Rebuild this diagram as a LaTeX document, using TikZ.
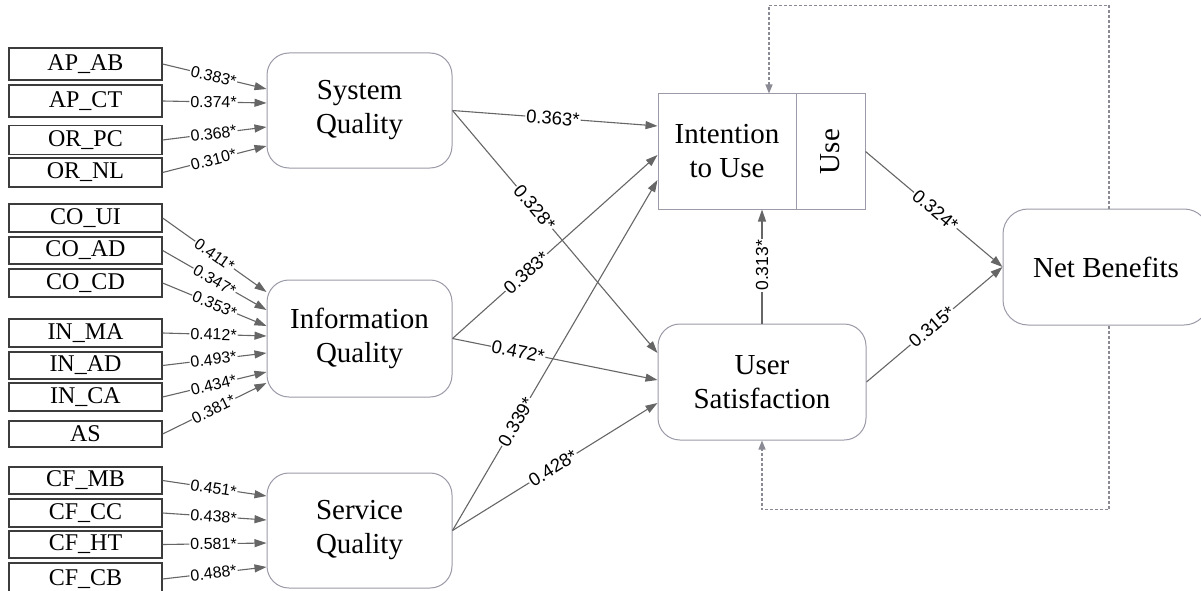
\documentclass[tikz,border=0pt]{standalone}
\usepackage{fontspec}
\setmainfont{Liberation Serif}
\newfontfamily\lblfont{Liberation Sans}
\usetikzlibrary{arrows.meta,calc}
\definecolor{indborder}{HTML}{3C3C3C}
\definecolor{latborder}{HTML}{9A9AA8}
\definecolor{arrcol}{HTML}{666666}
\definecolor{dashcol}{HTML}{8A8A95}
\begin{document}
\begin{tikzpicture}[x=1pt,y=-1pt,
 ind/.style={draw=indborder, line width=1.3pt, minimum width=153pt, inner sep=0pt, font=\fontsize{24}{26}\selectfont},
 lat/.style={draw=latborder, line width=1pt, rounded corners=22pt, minimum width=185pt, minimum height=115pt, align=center, inner sep=0pt, font=\fontsize{29}{34}\selectfont},
 arr/.style={draw=arrcol, line width=1.1pt, -{Triangle[length=12pt,width=8pt]}},
 lab/.style={sloped, fill=white, inner sep=1pt, text=black, font=\lblfont\fontsize{16}{16}\selectfont},
 labm/.style={lab, font=\lblfont\fontsize{18.5}{18.5}\selectfont},
 dsh/.style={draw=dashcol, line width=1.3pt, dash pattern=on 3pt off 2pt, -{Triangle[length=9pt,width=7pt]}}
]
\useasboundingbox (0,0) rectangle (1201,591);
\clip (0,0) rectangle (1201,591);
% indicator boxes
\node[ind, minimum height=32pt] (apab) at (85.5,64) {AP\_AB};
\node[ind, minimum height=32pt] (apct) at (85.5,101) {AP\_CT};
\node[ind, minimum height=29pt] (orpc) at (85.5,140) {OR\_PC};
\node[ind, minimum height=29pt] (ornl) at (85.5,172.5) {OR\_NL};
\node[ind, minimum height=28pt] (coui) at (85.5,218) {CO\_UI};
\node[ind, minimum height=27pt] (coad) at (85.5,250.5) {CO\_AD};
\node[ind, minimum height=28pt] (cocd) at (85.5,283) {CO\_CD};
\node[ind, minimum height=28pt] (inma) at (85.5,333) {IN\_MA};
\node[ind, minimum height=27pt] (inad) at (85.5,365.5) {IN\_AD};
\node[ind, minimum height=28pt] (inca) at (85.5,397) {IN\_CA};
\node[ind, minimum height=26pt] (as) at (85.5,434) {AS};
\node[ind, minimum height=27pt] (cfmb) at (85.5,480.5) {CF\_MB};
\node[ind, minimum height=28pt] (cfcc) at (85.5,513) {CF\_CC};
\node[ind, minimum height=27pt] (cfht) at (85.5,544.5) {CF\_HT};
\node[ind, minimum height=32pt] (cfcb) at (85.5,579) {CF\_CB};
% latent constructs
\node[lat] (sq) at (359.5,110.5) {System\\Quality};
\node[lat, minimum height=117pt] (iq) at (359.5,338.5) {Information\\Quality};
\node[lat] (svq) at (359.5,530.5) {Service\\Quality};
\node[draw=latborder, line width=1pt, minimum width=138pt, minimum height=115pt, inner sep=0pt, align=center, font=\fontsize{29}{34}\selectfont] (int) at (727,151.5) {Intention\\to Use};
\node[draw=latborder, line width=1pt, minimum width=69pt, minimum height=115pt, inner sep=0pt, font=\fontsize{29}{34}\selectfont] (use) at (830.5,151.5) {\rotatebox{90}{Use}};
\node[lat, minimum width=208pt, minimum height=116pt] (us) at (762,382) {User\\Satisfaction};
\node[lat, rounded corners=25pt, minimum width=206pt, minimum height=116pt] (nb) at (1106,267) {Net Benefits};
% indicator arrows
\draw[arr] (apab.east) -- node[lab,pos=0.49]{0.383*} ($(sq.west)+(0,-21.5)$);
\draw[arr] (apct.east) -- node[lab,pos=0.49]{0.374*} ($(sq.west)+(0,-7.5)$);
\draw[arr] (orpc.east) -- node[lab,pos=0.49]{0.368*} ($(sq.west)+(0,16.5)$);
\draw[arr] (ornl.east) -- node[lab,pos=0.49]{0.310*} ($(sq.west)+(0,35.5)$);
\draw[arr] (coui.east) -- node[lab,pos=0.5]{0.411*} ($(iq.west)+(0,-46.5)$);
\draw[arr] (coad.east) -- node[lab,pos=0.5]{0.347*} ($(iq.west)+(0,-28.5)$);
\draw[arr] (cocd.east) -- node[lab,pos=0.5]{0.353*} ($(iq.west)+(0,-12.5)$);
\draw[arr] (inma.east) -- node[lab,pos=0.49]{0.412*} ($(iq.west)+(0,-2.5)$);
\draw[arr] (inad.east) -- node[lab,pos=0.49]{0.493*} ($(iq.west)+(0,14.5)$);
\draw[arr] (inca.east) -- node[lab,pos=0.49]{0.434*} ($(iq.west)+(0,33.5)$);
\draw[arr] (as.east) -- node[lab,pos=0.49]{0.381*} ($(iq.west)+(0,44.5)$);
\draw[arr] (cfmb.east) -- node[lab,pos=0.49]{0.451*} ($(svq.west)+(0,-34.5)$);
\draw[arr] (cfcc.east) -- node[lab,pos=0.49]{0.438*} ($(svq.west)+(0,-10.5)$);
\draw[arr] (cfht.east) -- node[lab,pos=0.49]{0.581*} ($(svq.west)+(0,12.5)$);
\draw[arr] (cfcb.east) -- node[lab,pos=0.49]{0.488*} ($(svq.west)+(0,36.5)$);
% structural paths
\draw[arr] (sq.east) -- node[labm,pos=0.49]{0.363*} ($(int.west)+(0,-25.5)$);
\draw[arr] (sq.east) -- node[labm,pos=0.40]{0.328*} ($(us.west)+(0,-29)$);
\draw[arr] (iq.east) -- node[labm,pos=0.36]{0.383*} ($(int.west)+(0,3.5)$);
\draw[arr] (iq.east) -- node[labm,pos=0.32]{0.472*} ($(us.west)+(0,-2)$);
\draw[arr] (svq.east) -- node[labm,pos=0.31]{0.339*} ($(int.west)+(0,28.5)$);
\draw[arr] (svq.east) -- node[labm,pos=0.49]{0.428*} ($(us.west)+(0,21)$);
\draw[arr] (us.north) -- node[lab,pos=0.51,font=\lblfont\fontsize{17.5}{17.5}\selectfont]{0.313*} (us.north |- int.south);
\draw[arr] (use.east) -- node[labm,pos=0.51]{0.324*} (nb.west);
\draw[arr] (us.east) -- node[labm,pos=0.48]{0.315*} (nb.west);
% feedback loops
\draw[dsh] ($(nb.north)+(3,0)$) -- ++(0,-203) -| ($(int.north)+(42,0)$);
\draw[dsh] ($(nb.south)+(3,0)$) -- ++(0,184) -| (us.south);
\end{tikzpicture}
\end{document}
